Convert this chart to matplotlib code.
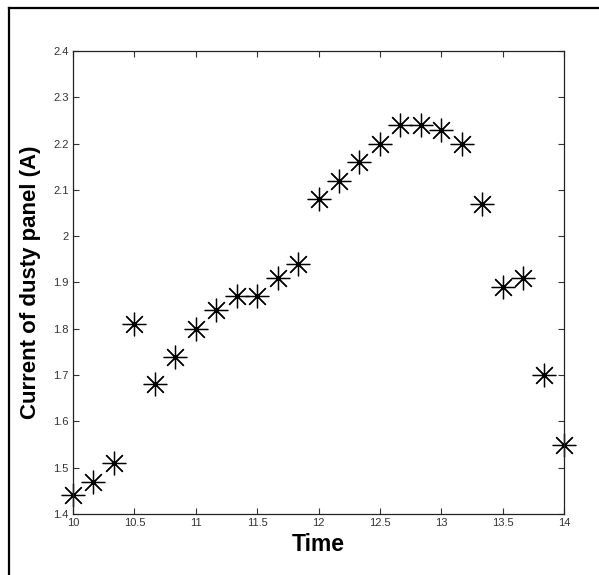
import matplotlib
matplotlib.use('Agg')
import matplotlib.pyplot as plt
import numpy as np
from matplotlib.lines import Line2D

plt.rcParams['font.family'] = ['Liberation Sans', 'DejaVu Sans']

# readings every 10 minutes from 10:00 to 14:00
time = np.arange(25) / 6.0 + 10
current = [1.44, 1.47, 1.51, 1.81, 1.68, 1.74, 1.80, 1.84, 1.87, 1.87,
           1.91, 1.94, 2.08, 2.12, 2.16, 2.20, 2.24, 2.24, 2.23, 2.20,
           2.07, 1.89, 1.91, 1.70, 1.55]
xticks = [10, 10.5, 11, 11.5, 12, 12.5, 13, 13.5, 14]
yticks = [1.4, 1.5, 1.6, 1.7, 1.8, 1.9, 2.0, 2.1, 2.2, 2.3, 2.4]
ytick_labels = ['1.4', '1.5', '1.6', '1.7', '1.8', '1.9', '2', '2.1', '2.2', '2.3', '2.4']

fig = plt.figure(figsize=(5.99, 5.75), dpi=100)
ax = fig.add_axes([73/599, 61/575, 491/599, 463/575])

ax.plot(time, current, linestyle='none', marker=(8, 2, 0), markersize=17,
        markeredgewidth=0.9, color='black', clip_on=False)
ax.plot(time, current, linestyle='none', marker='.', markersize=3,
        color='black', clip_on=False)

ax.set_xlim(10, 14)
ax.set_ylim(1.4, 2.4)
ax.set_xticks(xticks)
ax.set_xticklabels(['10', '10.5', '11', '11.5', '12', '12.5', '13', '13.5', '14'])
ax.set_yticks(yticks)
ax.set_yticklabels(ytick_labels)
ax.tick_params(direction='in', length=4, width=0.8, labelsize=8,
               colors='#333333', top=True, right=True, pad=3)
for s in ax.spines.values():
    s.set_linewidth(0.9)
    s.set_color('#222222')

ax.set_xlabel('Time', fontsize=16.5, fontweight='bold')
ax.set_ylabel('Current of dusty panel (A)', fontsize=16, fontweight='bold')
ax.xaxis.set_label_coords(0.5, -19/463)
ax.yaxis.set_label_coords(-32/491, 0.5)

# outer frame (only left and top edge inside the image)
fig.add_artist(Line2D([9/599, 9/599], [0, 1 - 8/575], color='black', lw=1.6))
fig.add_artist(Line2D([9/599, 1], [1 - 8/575, 1 - 8/575], color='black', lw=1.6))

fig.savefig('out.png', dpi=100, facecolor='white')
